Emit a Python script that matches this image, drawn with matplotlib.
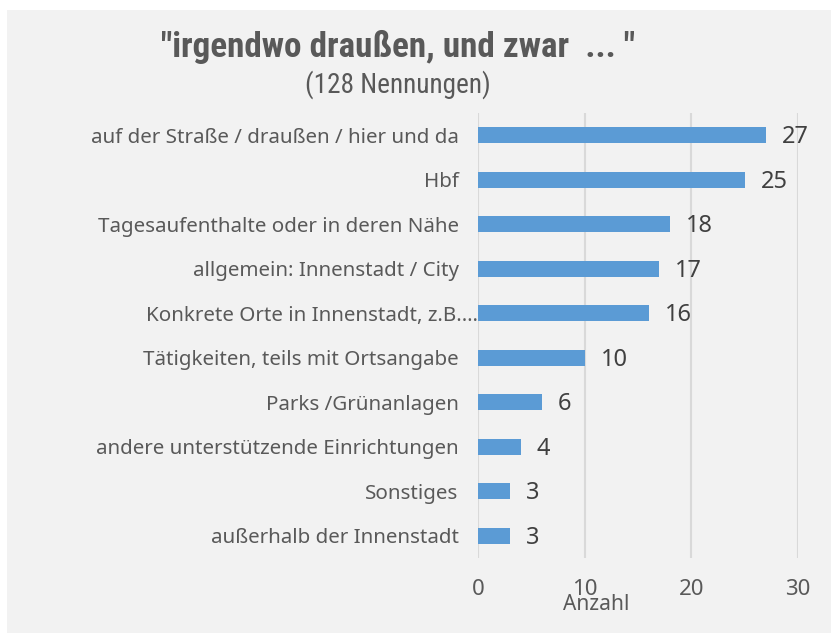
import matplotlib.pyplot as plt
import matplotlib.font_manager as fm
import matplotlib.transforms as mtrans

categories = [
    "auf der Straße / draußen / hier und da",
    "Hbf",
    "Tagesaufenthalte oder in deren Nähe",
    "allgemein: Innenstadt / City",
    "Konkrete Orte in Innenstadt, z.B.…",
    "Tätigkeiten, teils mit Ortsangabe",
    "Parks /Grünanlagen",
    "andere unterstützende Einrichtungen",
    "Sonstiges",
    "außerhalb der Innenstadt",
]
counts = [27, 25, 18, 17, 16, 10, 6, 4, 3, 3]
x_ticks = [0, 10, 20, 30]

BG = "#f2f2f2"
BAR = "#5b9bd5"
TXT = "#595959"
GRID = "#d9d9d9"

# schmale Schrift für den Titel, falls vorhanden
available = {f.name for f in fm.fontManager.ttflist}
narrow = "DejaVu Sans"
for cand in ["Liberation Sans Narrow", "DejaVu Sans Condensed", "Roboto Condensed",
             "Open Sans Condensed", "Noto Sans Condensed"]:
    if cand in available:
        narrow = cand
        break
plt.rcParams["font.family"] = ["Noto Sans", "DejaVu Sans"]

fig = plt.figure(figsize=(8.31, 6.33), dpi=100)
fig.patch.set_facecolor("white")
fig.add_artist(plt.Rectangle((7 / 831, 0), 1, 1 - 10 / 633, transform=fig.transFigure,
                             facecolor=BG, edgecolor="none", zorder=-10))

ax = fig.add_axes([478 / 831, 1 - 558 / 633, 320 / 831, 445 / 633])
ax.set_facecolor(BG)

ypos = list(range(len(categories)))
ax.barh(ypos, counts, height=0.36, color=BAR, zorder=3)
ax.set_ylim(len(categories) - 0.5, -0.5)
ax.set_xlim(0, 30)

for y, v in zip(ypos, counts):
    ax.annotate(str(v), (v, y), xytext=(11.5, -1.5), textcoords="offset points",
                ha="left", va="center", fontsize=17, color="#404040")

ax.set_yticks(ypos)
ax.set_yticklabels(categories, fontsize=14.8, color=TXT)
ax.set_xticks(x_ticks)
ax.set_xticklabels([str(t) for t in x_ticks], fontsize=16, color=TXT)
ax.tick_params(axis="y", length=0, pad=14)
ax.tick_params(axis="x", length=0, pad=15)

# abgeschnittene Beschriftung reicht in der Vorlage bis an die Achse
lbl = ax.get_yticklabels()[4]
lbl.set_transform(lbl.get_transform() + mtrans.ScaledTranslation(19 / 100, 0, fig.dpi_scale_trans))

ax.grid(axis="x", color=GRID, linewidth=1.5, zorder=0)
for s in ax.spines.values():
    s.set_visible(False)

fig.text(596 / 831, 1 - 605 / 633, "Anzahl", ha="center", va="center",
         fontsize=15, color=TXT)
title = fig.text(398 / 831, 1 - 47 / 633, "\"irgendwo draußen, und zwar  ... \"",
                 ha="center", va="center", fontsize=24, fontweight="bold",
                 fontstretch="condensed", color=TXT, family=[narrow, "DejaVu Sans"])
sub = fig.text(398 / 831, 1 - 85 / 633, "(128 Nennungen)", ha="center", va="center",
               fontsize=17, fontstretch="condensed", color=TXT,
               family=[narrow, "DejaVu Sans"])

# Breite an Referenz anpassen (Titel ~476 px, Untertitel ~185 px)
r = fig.canvas.get_renderer()
for t, target in [(title, 476), (sub, 185)]:
    w = t.get_window_extent(renderer=r).width
    t.set_fontsize(t.get_fontsize() * target / w)

fig.savefig("out.png", dpi=100, facecolor=fig.get_facecolor())
